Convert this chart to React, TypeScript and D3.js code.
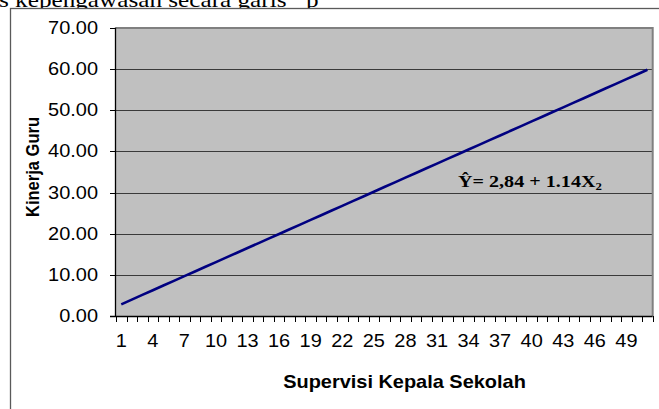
import React from "react";
import * as d3 from "d3";

const categories: number[] = Array.from({ length: 51 }, (_, i) => i + 1);
const predicted: number[] = [
  2.84, 3.98, 5.12, 6.26, 7.4, 8.54, 9.68, 10.82, 11.96, 13.1, 14.24, 15.38, 16.52,
  17.66, 18.8, 19.94, 21.08, 22.22, 23.36, 24.5, 25.64, 26.78, 27.92, 29.06, 30.2,
  31.34, 32.48, 33.62, 34.76, 35.9, 37.04, 38.18, 39.32, 40.46, 41.6, 42.74, 43.88,
  45.02, 46.16, 47.3, 48.44, 49.58, 50.72, 51.86, 53.0, 54.14, 55.28, 56.42, 57.56,
  58.7, 59.84,
];
const yTicks: number[] = [0, 10, 20, 30, 40, 50, 60, 70];
const xLabelEvery = 3;
const yTitle = "Kinerja Guru";
const xTitle = "Supervisi Kepala Sekolah";
const topText = "s kepengawasan secara garis";

const W = 659;
const H = 409;
const SX = 1.14;
const FS = 17.5;
const plot = { left: 116, right: 652.7, top: 28, bottom: 316 };

export default function App() {
  const x = d3
    .scaleBand<number>()
    .domain(categories)
    .range([plot.left, plot.right])
    .padding(0);
  const bw = x.bandwidth();
  const cx = (c: number) => (x(c) as number) + bw / 2;
  const y = d3.scaleLinear().domain([0, 70]).range([plot.bottom, plot.top]);

  const line = d3
    .line<number>()
    .x((_, i) => cx(categories[i]))
    .y((d) => y(d));

  const boundaries = d3.range(categories.length + 1).map((i) => plot.left + i * bw);
  const sans = "Arial, 'Liberation Sans', sans-serif";
  const serif = "'Times New Roman', 'Liberation Serif', serif";

  return (
    <svg
      width={W}
      height={H}
      style={{ position: "absolute", left: 0, top: 0, display: "block" }}
    >
      <rect x={0} y={0} width={W} height={H} fill="#ffffff" />
      <text
        transform={`translate(-1,6.5) scale(1.2,1)`}
        fontFamily={serif}
        fontSize={21}
        fill="#000"
      >
        {topText}
      </text>
      <text
        transform={`translate(306,6.5) scale(1.2,1)`}
        fontFamily={serif}
        fontSize={21}
        fill="#000"
      >
        p
      </text>
      {/* outer chart frame */}
      <rect
        x={10.5}
        y={8.5}
        width={W + 20}
        height={H + 20}
        fill="#ffffff"
        stroke="#5a5a5a"
        strokeWidth={1.3}
      />
      {/* plot area */}
      <rect
        x={plot.left}
        y={plot.top}
        width={plot.right - plot.left}
        height={plot.bottom - plot.top}
        fill="#c0c0c0"
      />
      {/* gridlines */}
      {yTicks
        .filter((t) => t > 0 && t < 70)
        .map((t) => (
          <line
            key={"g" + t}
            x1={plot.left}
            x2={plot.right}
            y1={Math.round(y(t)) + 0.5}
            y2={Math.round(y(t)) + 0.5}
            stroke="#3a3a3a"
            strokeWidth={1}
          />
        ))}
      {/* top & right border */}
      <path
        d={`M${plot.left},${plot.top} H${plot.right} V${plot.bottom}`}
        fill="none"
        stroke="#808080"
        strokeWidth={2}
      />
      {/* y axis */}
      <line
        x1={plot.left - 0.5}
        x2={plot.left - 0.5}
        y1={plot.top - 0.5}
        y2={plot.bottom}
        stroke="#000"
        strokeWidth={1.3}
      />
      {yTicks.map((t) => (
        <g key={"y" + t}>
          <line
            x1={plot.left - 6}
            x2={plot.left}
            y1={Math.round(y(t)) + 0.5}
            y2={Math.round(y(t)) + 0.5}
            stroke="#000"
            strokeWidth={1}
          />
          <text
            transform={`translate(98,${y(t) + 6}) scale(${SX},1)`}
            textAnchor="end"
            fontFamily={sans}
            fontSize={FS}
            fill="#000"
          >
            {t.toFixed(2)}
          </text>
        </g>
      ))}
      {/* x axis */}
      <line
        x1={plot.left - 6}
        x2={plot.right}
        y1={plot.bottom + 0.5}
        y2={plot.bottom + 0.5}
        stroke="#000"
        strokeWidth={1.3}
      />
      {boundaries.map((bx, i) => (
        <line
          key={"t" + i}
          x1={Math.round(bx) + 0.5}
          x2={Math.round(bx) + 0.5}
          y1={plot.bottom}
          y2={plot.bottom + 6}
          stroke="#000"
          strokeWidth={1}
        />
      ))}
      {categories
        .filter((_, i) => i % xLabelEvery === 0)
        .map((c) => (
          <text
            key={"xl" + c}
            transform={`translate(${cx(c)},347) scale(${SX},1)`}
            textAnchor="middle"
            fontFamily={sans}
            fontSize={FS}
            fill="#000"
          >
            {c}
          </text>
        ))}
      {/* series line */}
      <path
        d={line(predicted) || ""}
        fill="none"
        stroke="#000080"
        strokeWidth={2.6}
      />
      {/* equation */}
      <text
        transform={`translate(458,187) scale(1.22,1)`}
        fontFamily={serif}
        fontSize={16.5}
        fontWeight="bold"
        fill="#000"
      >
        Ŷ= 2,84 + 1.14X
        <tspan fontSize={10.5} dy={3}>
          2
        </tspan>
      </text>
      {/* axis titles */}
      <text
        transform={`translate(404.5,388) scale(${SX},1)`}
        textAnchor="middle"
        fontFamily={sans}
        fontSize={FS}
        fontWeight="bold"
        fill="#000"
      >
        {xTitle}
      </text>
      <text
        transform={`translate(38.5,167) scale(${SX},1) rotate(-90)`}
        textAnchor="middle"
        fontFamily={sans}
        fontSize={16.5}
        fontWeight="bold"
        fill="#000"
      >
        {yTitle}
      </text>
    </svg>
  );
}
